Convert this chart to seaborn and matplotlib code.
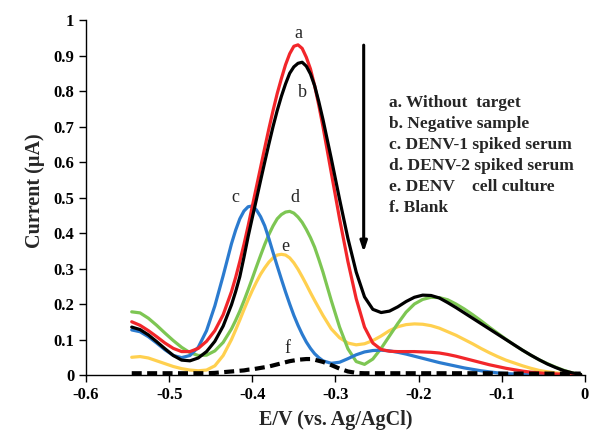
import matplotlib
matplotlib.use("Agg")
import matplotlib.pyplot as plt
import seaborn as sns
import pandas as pd

# potential axis (V vs Ag/AgCl), coarse grid over the whole scan
potential = [-0.545, -0.535, -0.525, -0.515, -0.505, -0.495, -0.485, -0.475, -0.465, -0.455,
             -0.445, -0.435, -0.425, -0.415, -0.405, -0.395, -0.385, -0.375, -0.365, -0.355,
             -0.345, -0.335, -0.325, -0.315, -0.305, -0.295, -0.285, -0.275, -0.265, -0.255,
             -0.245, -0.235, -0.225, -0.215, -0.205, -0.195, -0.185, -0.175, -0.165, -0.155,
             -0.145, -0.135, -0.125, -0.115, -0.105, -0.095, -0.085, -0.075, -0.065, -0.055,
             -0.045, -0.035, -0.025, -0.015, -0.005]
# extra readings around the peaks
potential_peak = [-0.420, -0.410, -0.400, -0.390, -0.380, -0.370, -0.360, -0.350, -0.340,
                  -0.330, -0.320]

# a. without target
curr_a = [0.150, 0.140, 0.125, 0.108, 0.090, 0.075, 0.066, 0.066, 0.075, 0.095,
          0.125, 0.170, 0.235, 0.320, 0.420, 0.530, 0.640, 0.745, 0.835, 0.905,
          0.930, 0.895, 0.815, 0.700, 0.570, 0.440, 0.320, 0.215, 0.135, 0.090,
          0.072, 0.067, 0.066, 0.066, 0.066, 0.065, 0.064, 0.062, 0.058, 0.053,
          0.047, 0.041, 0.035, 0.029, 0.024, 0.019, 0.015, 0.011, 0.008, 0.006,
          0.004, 0.003, 0.002, 0.001, 0.000]
curr_a_peak = [0.275, 0.368, 0.475, 0.585, 0.694, 0.793, 0.874, 0.926, 0.920, 0.862, 0.760]

# b. negative sample
curr_b = [0.135, 0.128, 0.113, 0.094, 0.074, 0.055, 0.042, 0.040, 0.048, 0.066,
          0.095, 0.138, 0.198, 0.277, 0.390, 0.495, 0.600, 0.700, 0.785, 0.850,
          0.878, 0.870, 0.815, 0.720, 0.610, 0.495, 0.385, 0.290, 0.220, 0.185,
          0.176, 0.180, 0.192, 0.207, 0.219, 0.225, 0.224, 0.217, 0.204, 0.190,
          0.175, 0.160, 0.145, 0.130, 0.115, 0.100, 0.085, 0.070, 0.056, 0.043,
          0.031, 0.021, 0.012, 0.006, 0.002]
curr_b_peak = [0.235, 0.332, 0.443, 0.548, 0.651, 0.745, 0.820, 0.868, 0.881, 0.848, 0.770]

# c. DENV-1 spiked serum
curr_c = [0.127, 0.122, 0.108, 0.090, 0.071, 0.055, 0.049, 0.055, 0.078, 0.125,
          0.195, 0.280, 0.370, 0.440, 0.474, 0.465, 0.420, 0.345, 0.270, 0.200,
          0.140, 0.093, 0.060, 0.040, 0.033, 0.036, 0.046, 0.057, 0.065, 0.069,
          0.070, 0.068, 0.064, 0.059, 0.053, 0.047, 0.041, 0.035, 0.030, 0.025,
          0.020, 0.016, 0.012, 0.009, 0.006, 0.004, 0.003, 0.002, 0.001, 0.001,
          0.001, 0.001, 0.001, 0.001, 0.001]
curr_c_peak = [0.408, 0.462, 0.476, 0.446, 0.384, 0.307, 0.234, 0.168, 0.115, 0.075, 0.049]

# d. DENV-2 spiked serum
curr_d = [0.178, 0.175, 0.160, 0.140, 0.118, 0.097, 0.078, 0.063, 0.055, 0.056,
          0.068, 0.092, 0.130, 0.180, 0.240, 0.305, 0.368, 0.420, 0.452, 0.461,
          0.445, 0.410, 0.360, 0.290, 0.210, 0.135, 0.074, 0.038, 0.030, 0.045,
          0.075, 0.110, 0.145, 0.177, 0.200, 0.213, 0.219, 0.218, 0.212, 0.200,
          0.186, 0.170, 0.153, 0.135, 0.118, 0.101, 0.085, 0.070, 0.056, 0.043,
          0.032, 0.022, 0.013, 0.006, 0.002]
curr_d_peak = [0.154, 0.209, 0.272, 0.337, 0.396, 0.440, 0.459, 0.456, 0.430, 0.387, 0.326]

# e. DENV cell culture
curr_e = [0.050, 0.052, 0.048, 0.040, 0.032, 0.024, 0.018, 0.014, 0.012, 0.014,
          0.026, 0.055, 0.100, 0.155, 0.212, 0.262, 0.302, 0.330, 0.340, 0.330,
          0.298, 0.255, 0.210, 0.168, 0.130, 0.105, 0.090, 0.085, 0.088, 0.097,
          0.110, 0.125, 0.136, 0.142, 0.144, 0.143, 0.139, 0.132, 0.122, 0.112,
          0.100, 0.088, 0.075, 0.063, 0.052, 0.042, 0.034, 0.026, 0.019, 0.013,
          0.009, 0.006, 0.004, 0.002, 0.001]
curr_e_peak = [0.127, 0.184, 0.238, 0.284, 0.318, 0.338, 0.338, 0.316, 0.277, 0.232, 0.189]

# f. blank
curr_f = [0.005, 0.005, 0.005, 0.005, 0.005, 0.005, 0.005, 0.005, 0.005, 0.005,
          0.006, 0.008, 0.010, 0.012, 0.015, 0.018, 0.022, 0.027, 0.033, 0.039,
          0.043, 0.045, 0.043, 0.037, 0.028, 0.018, 0.010, 0.006, 0.005, 0.005,
          0.005, 0.005, 0.005, 0.005, 0.005, 0.005, 0.005, 0.005, 0.005, 0.005,
          0.005, 0.005, 0.005, 0.005, 0.004, 0.004, 0.004, 0.004, 0.004, 0.004,
          0.004, 0.004, 0.004, 0.004, 0.004]
curr_f_peak = [0.011, 0.013, 0.016, 0.020, 0.024, 0.030, 0.036, 0.041, 0.044, 0.045, 0.040]

legend_lines = ["a. Without  target", "b. Negative sample", "c. DENV-1 spiked serum",
                "d. DENV-2 spiked serum", "e. DENV    cell culture", "f. Blank"]

x_ticks = [-0.6, -0.5, -0.4, -0.3, -0.2, -0.1, 0]
x_ticklabels = ["-0.6", "-0.5", "-0.4", "-0.3", "-0.2", "-0.1", "0"]
y_ticks = [0, 0.1, 0.2, 0.3, 0.4, 0.5, 0.6, 0.7, 0.8, 0.9, 1]
y_ticklabels = ["0", "0.1", "0.2", "0.3", "0.4", "0.5", "0.6", "0.7", "0.8", "0.9", "1"]

sns.set_style("ticks")
plt.rcParams["font.family"] = ["Liberation Serif", "DejaVu Serif"]

fig = plt.figure(figsize=(6.01, 4.32), dpi=100)
ax = fig.add_axes([0.1431, 0.1319, 0.830, 0.8218])


def curve_df(vals, vals_peak):
    return pd.DataFrame({"E": potential + potential_peak, "I": vals + vals_peak})


series = [
    (curr_e, curr_e_peak, "#FFD04F"),
    (curr_d, curr_d_peak, "#7DC653"),
    (curr_c, curr_c_peak, "#2B7BCF"),
    (curr_a, curr_a_peak, "#F2262A"),
    (curr_b, curr_b_peak, "#000000"),
]
for vals, vals_peak, col in series:
    sns.lineplot(data=curve_df(vals, vals_peak), x="E", y="I", color=col,
                 linewidth=2.3, ax=ax)

sns.lineplot(data=curve_df(curr_f, curr_f_peak), x="E", y="I", color="black",
             linewidth=3.0, ax=ax, linestyle=(0, (2.4, 1.3)))

# curve letters
for lab, lx, ly in [("a", -0.345, 0.963), ("b", -0.340, 0.797), ("c", -0.420, 0.499),
                    ("d", -0.349, 0.499), ("e", -0.360, 0.363), ("f", -0.358, 0.076)]:
    ax.text(lx, ly, lab, fontsize=13, ha="center", va="center")

# arrow showing the decrease
ax.annotate("", xy=(-0.266, 0.338), xytext=(-0.266, 0.937),
            arrowprops=dict(arrowstyle="-|>,head_length=0.6,head_width=0.2",
                            color="black", lw=2.2))

# text legend
for i, line in enumerate(legend_lines):
    ax.text(-0.235, 0.766 - i * 0.0592, line, fontsize=12.5, fontweight="bold",
            ha="left", va="center")

ax.set_xlim(-0.6, 0)
ax.set_ylim(0, 1)
ax.set_xticks(x_ticks)
ax.set_xticklabels(x_ticklabels)
ax.set_yticks(y_ticks)
ax.set_yticklabels(y_ticklabels)
ax.tick_params(labelsize=12, direction="out", length=5, width=1, colors="black")
for t in ax.get_xticklabels() + ax.get_yticklabels():
    t.set_fontweight("bold")
ax.set_xlabel("E/V (vs. Ag/AgCl)", fontsize=14.5, fontweight="bold", labelpad=5)
ax.set_ylabel("Current (µA)", fontsize=14.5, fontweight="bold")
ax.yaxis.set_label_coords(-0.083, 0.52)
sns.despine(ax=ax)
for s in ["left", "bottom"]:
    ax.spines[s].set_color("black")
    ax.spines[s].set_linewidth(1.0)

fig.savefig("out.png", dpi=100)
